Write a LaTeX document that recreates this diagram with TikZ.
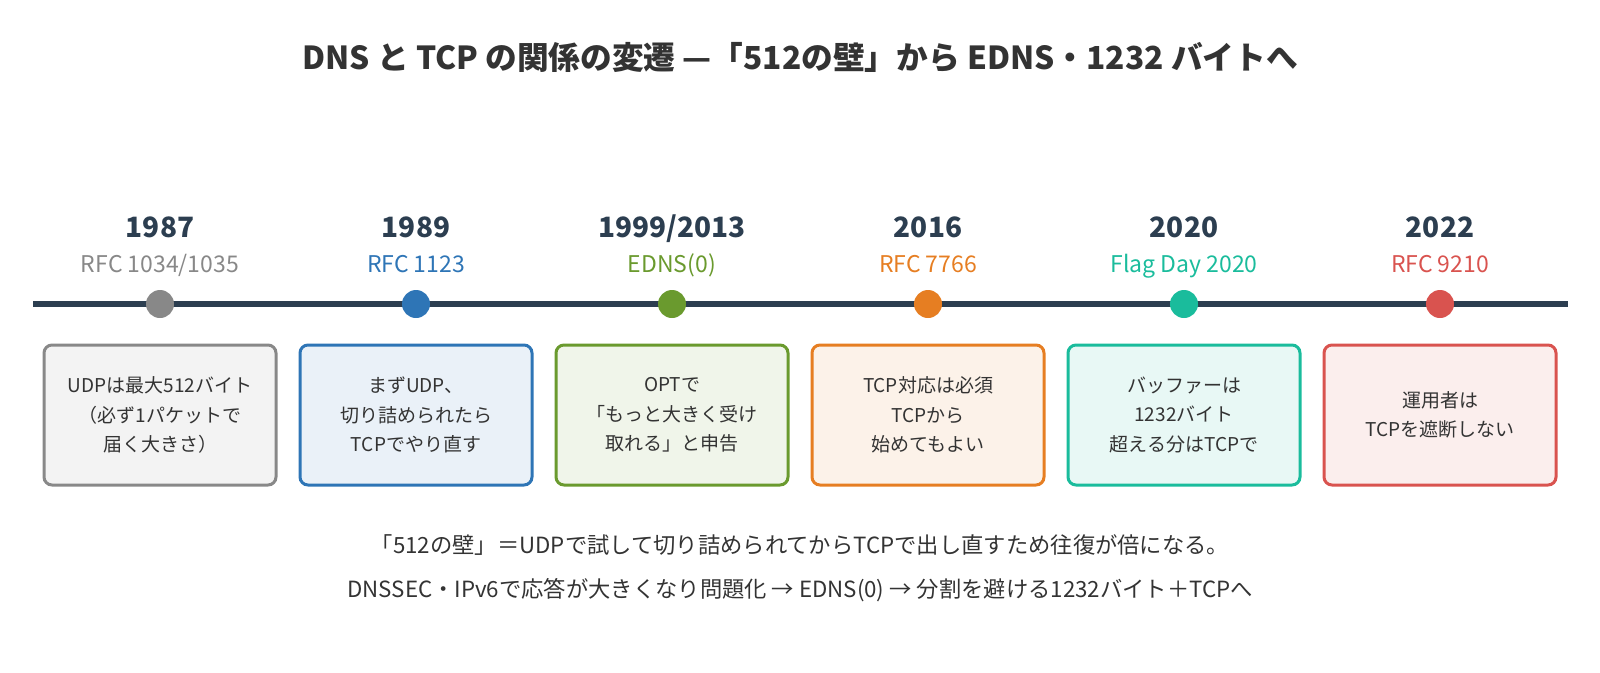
\documentclass[tikz,border=0pt]{standalone}
\usepackage{fontspec}
\setmainfont{Noto Sans CJK JP}
\definecolor{navy}{HTML}{2C3E50}
\definecolor{ink}{HTML}{333333}
\definecolor{cgray}{HTML}{888888}
\definecolor{cblue}{HTML}{2E75B6}
\definecolor{cgreen}{HTML}{6A9A2E}
\definecolor{corange}{HTML}{E67E22}
\definecolor{cteal}{HTML}{1ABC9C}
\definecolor{cred}{HTML}{D9534F}
\begin{document}
\begin{tikzpicture}[x=1pt,y=-1pt,
  yearlabel/.style={font=\fontsize{28}{30}\selectfont\bfseries,text=navy},
  rfclabel/.style={font=\fontsize{23}{26}\selectfont},
  dot/.style={circle,inner sep=0pt,minimum size=28pt},
  eventbox/.style={rounded corners=8pt,line width=3pt,minimum width=232pt,minimum height=140pt,
    align=center,text=ink,font=\fontsize{19}{29.6}\selectfont},
  note/.style={text=ink,font=\fontsize{22.3}{24}\selectfont}]
\useasboundingbox (0,0) rectangle (1600,672);
\node[text=ink,font=\fontsize{31.7}{34}\selectfont\bfseries] (title) at (800,57)
  {DNS と TCP の関係の変遷 —「512の壁」から EDNS・1232 バイトへ};
% timeline
\coordinate (tl) at (33,304);
\coordinate (tr) at (1568,304);
\draw[navy,line width=6pt] (tl) -- (tr);
\foreach \i/\yr/\rfc/\col/\txt in {
  1/1987/{RFC 1034/1035}/cgray/{UDPは最大512バイト\\（必ず1パケットで\\届く大きさ）},
  2/1989/{RFC 1123}/cblue/{まずUDP、\\切り詰められたら\\TCPでやり直す},
  3/{1999/2013}/{EDNS(0)}/cgreen/{OPTで\\「もっと大きく受け\\取れる」と申告},
  4/2016/{RFC 7766}/corange/{TCP対応は必須\\TCPから\\始めてもよい},
  5/2020/{Flag Day 2020}/cteal/{バッファーは\\1232バイト\\超える分はTCPで},
  6/2022/{RFC 9210}/cred/{運用者は\\TCPを遮断しない}} {
  \node[yearlabel,anchor=base] (y\i) at (160+256*\i-256,237) {\yr};
  \node[rfclabel,text=\col,anchor=base] (r\i) at (160+256*\i-256,272) {\rfc};
  \node[dot,fill=\col] (d\i) at (160+256*\i-256,304) {};
  \node[eventbox,draw=\col,fill=\col!10] (b\i) at (160+256*\i-256,415) {\txt};
}
\node[note] (n1) at (800,545) {「512の壁」＝UDPで試して切り詰められてからTCPで出し直すため往復が倍になる。};
\node[note] (n2) at (800,590) {DNSSEC・IPv6で応答が大きくなり問題化 → EDNS(0) → 分割を避ける1232バイト＋TCPへ};
\end{tikzpicture}
\end{document}
